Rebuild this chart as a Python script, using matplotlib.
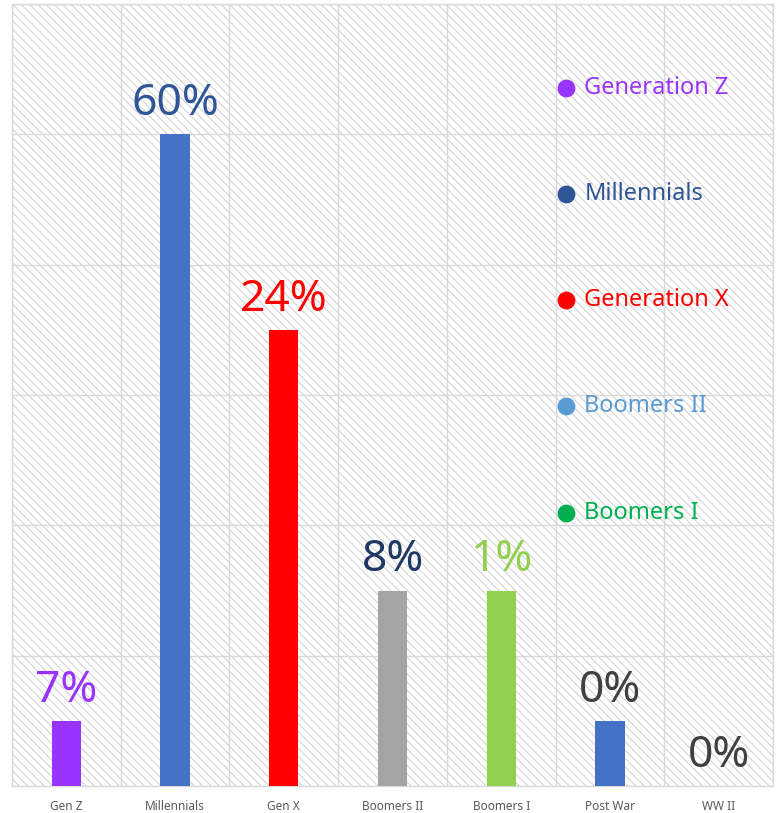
import matplotlib
matplotlib.use("Agg")
import matplotlib.pyplot as plt
from matplotlib.patches import Rectangle

# Data
categories = ['Gen Z', 'Millennials', 'Gen X', 'Boomers II', 'Boomers I', 'Post War', 'WW II']
heights = [0.5, 5.0, 3.5, 1.5, 1.5, 0.5, 0.0]
labels = ['7%', '60%', '24%', '8%', '1%', '0%', '0%']
bar_colors = ['#9933FF', '#4472C4', '#FF0000', '#A5A5A5', '#92D050', '#4472C4', '#4472C4']
label_colors = ['#9933FF', '#2F5597', '#FF0000', '#1F3864', '#92D050', '#404040', '#404040']

legend_names = ['Generation Z', 'Millennials', 'Generation X', 'Boomers II', 'Boomers I']
legend_colors = ['#9933FF', '#2F5597', '#FF0000', '#5B9BD5', '#00B050']

plt.rcParams['font.family'] = ['Noto Sans', 'DejaVu Sans']
plt.rcParams['hatch.linewidth'] = 0.7

fig = plt.figure(figsize=(7.82, 8.13), dpi=100)
ax = fig.add_axes([12/782, 27/813, 761/782, 782/813])

# hatched background
ax.add_patch(Rectangle((0, 0), 1, 1, transform=ax.transAxes, facecolor='white',
                       edgecolor='#CFCFCF', hatch='\\\\\\\\', lw=0, zorder=0))

x = range(len(categories))
ax.bar(x, heights, width=0.27, color=bar_colors, zorder=3)

for i, (h, lab) in enumerate(zip(heights, labels)):
    ax.annotate(lab, (i, h), xytext=(0, 6), textcoords='offset points',
                ha='center', va='bottom', fontsize=32, color=label_colors[i], zorder=4)

ax.set_xlim(-0.5, len(categories) - 0.5)
ax.set_ylim(0, 6)

# grid: horizontal at every unit, vertical between categories
ax.set_yticks(range(0, 7))
ax.set_xticks([i - 0.5 for i in range(len(categories) + 1)], minor=True)
ax.set_xticks(list(x))
ax.set_xticklabels(categories, fontsize=8.5, color='#595959')
ax.set_yticklabels([])
ax.grid(True, which='major', axis='y', color='#D9D9D9', lw=1, zorder=1)
ax.grid(True, which='minor', axis='x', color='#D9D9D9', lw=1, zorder=1)
ax.tick_params(axis='both', which='both', length=0)
ax.tick_params(axis='x', pad=10)
ax.set_axisbelow(True)
for s in ax.spines.values():
    s.set_color('#D9D9D9')
    s.set_linewidth(1)

# legend drawn inside the plot
for k, (name, col) in enumerate(zip(legend_names, legend_colors)):
    yy = 0.893 - k * 0.1359
    ax.scatter([0.728], [yy], s=140, color=col, transform=ax.transAxes, zorder=5, clip_on=False)
    ax.text(0.752, yy, name, transform=ax.transAxes, fontsize=17, color=col,
            va='center', ha='left', zorder=5)

fig.savefig('out.png', dpi=100)
